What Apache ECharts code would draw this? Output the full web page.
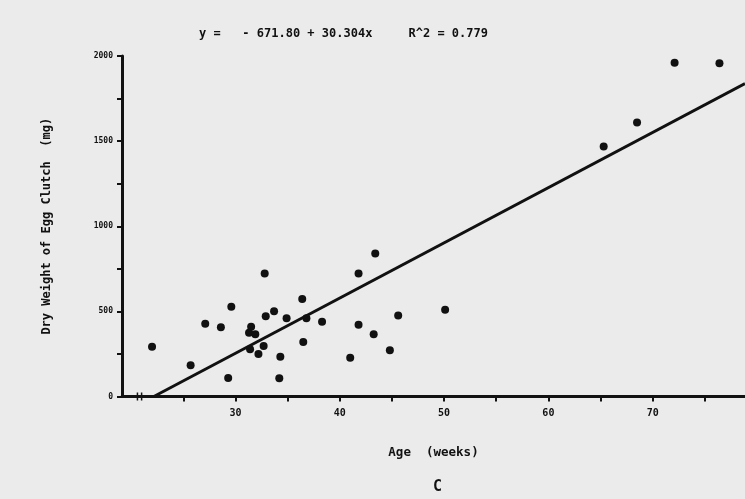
<!DOCTYPE html>
<html>
<head>
<meta charset="utf-8">
<script src="https://cdn.jsdelivr.net/npm/echarts@6/dist/echarts.min.js"></script>
<style>
html,body{margin:0;padding:0;background:#ebebeb;}
#c{width:745px;height:499px;}
</style>
</head>
<body>
<div id="c"></div>
<script>
// Observed data: Age (weeks) vs Dry Weight of Egg Clutch (mg)
var ageWeeks = [22.0, 25.7, 27.1, 28.6, 29.6, 29.3, 32.8, 31.5, 31.3, 31.9, 31.4, 32.2, 32.7, 32.9, 33.7, 34.3, 34.2, 34.9, 36.4, 36.8, 36.5, 38.3, 41.0, 41.8, 41.8, 43.4, 43.25, 44.8, 45.6, 50.1, 65.3, 68.5, 72.1, 76.4];
var dryWeight = [292, 183, 427, 407, 527, 108, 722, 409, 374, 365, 277, 249, 296, 472, 501, 233, 107, 459, 572, 459, 320, 439, 227, 722, 421, 840, 366, 271, 476, 509, 1469, 1609, 1960, 1957];
// Regression line end points
var fitX = [22.17, 78.85];
var fitY = [0, 1838];
var xTicks = [25, 30, 35, 40, 45, 50, 55, 60, 65, 70, 75];
var xLabels = [30, 40, 50, 60, 70];
var yLabels = [0, 500, 1000, 1500, 2000];
var titleText = 'y =   - 671.80 + 30.304x     R^2 = 0.779';
var xName = 'Age  (weeks)';
var yName = 'Dry Weight of Egg Clutch  (mg)';
var figLabel = 'C';

var FONT = '"DejaVu Sans Mono", "Liberation Mono", monospace';
var chart = echarts.init(document.getElementById('c'), null, {renderer: 'canvas'});
var points = ageWeeks.map(function (a, i) { return [a, dryWeight[i]]; });
var fitLine = fitX.map(function (a, i) { return [a, fitY[i]]; });

chart.setOption({
  backgroundColor: '#ebebeb',
  animation: false,
  title: {
    text: titleText,
    left: 194, top: 23,
    textStyle: {fontFamily: FONT, fontSize: 12, fontWeight: 'bold', color: '#111'}
  },
  grid: {left: 122, right: 0, top: 56, bottom: 102.5, containLabel: false},
  xAxis: {
    type: 'value', min: 19.12, max: 78.85,
    name: xName, nameLocation: 'middle', nameGap: 50,
    nameTextStyle: {fontFamily: FONT, fontSize: 12.5, fontWeight: 'bold', color: '#111'},
    axisLine: {show: true, onZero: false, lineStyle: {color: '#111', width: 3}},
    axisTick: {show: true, customValues: xTicks, length: 5, lineStyle: {color: '#111', width: 2}},
    axisLabel: {customValues: xLabels, margin: 12, fontFamily: FONT, fontSize: 10, fontWeight: 'bold', color: '#111',
      formatter: function (v) { return String(v); }},
    splitLine: {show: false}
  },
  yAxis: {
    type: 'value', min: 0, max: 2000, interval: 250,
    name: yName, nameLocation: 'middle', nameGap: 69, nameRotate: 90,
    nameTextStyle: {fontFamily: FONT, fontSize: 12, fontWeight: 'bold', color: '#111'},
    axisLine: {show: true, lineStyle: {color: '#111', width: 3}},
    axisTick: {show: true, length: 5, lineStyle: {color: '#111', width: 2}},
    axisLabel: {customValues: yLabels, margin: 9, fontFamily: FONT, fontSize: 8, fontWeight: 'bold', color: '#111',
      formatter: function (v) { return String(v); }},
    splitLine: {show: false}
  },
  series: [
    {
      type: 'line', data: fitLine, symbol: 'none', silent: true,
      lineStyle: {color: '#111', width: 3}, z: 3
    },
    {
      type: 'scatter', data: points, symbol: 'circle', symbolSize: 8,
      itemStyle: {color: '#111', opacity: 1}, z: 4
    }
  ]
});

// axis break marks near the origin and the panel letter
var p1 = chart.convertToPixel({gridIndex: 0}, [20.6, 0]);
var p2 = chart.convertToPixel({gridIndex: 0}, [21.0, 0]);
chart.setOption({
  graphic: [
    {type: 'text', left: 433, top: 480,
     style: {text: figLabel, fontFamily: FONT, fontSize: 15, fontWeight: 'bold', fill: '#111'}},
    {type: 'line', shape: {x1: p1[0], y1: p1[1] - 4, x2: p1[0], y2: p1[1] + 4}, style: {stroke: '#111', lineWidth: 1.5}},
    {type: 'line', shape: {x1: p2[0], y1: p2[1] - 4, x2: p2[0], y2: p2[1] + 4}, style: {stroke: '#111', lineWidth: 1.5}}
  ]
});
</script>
</body>
</html>
